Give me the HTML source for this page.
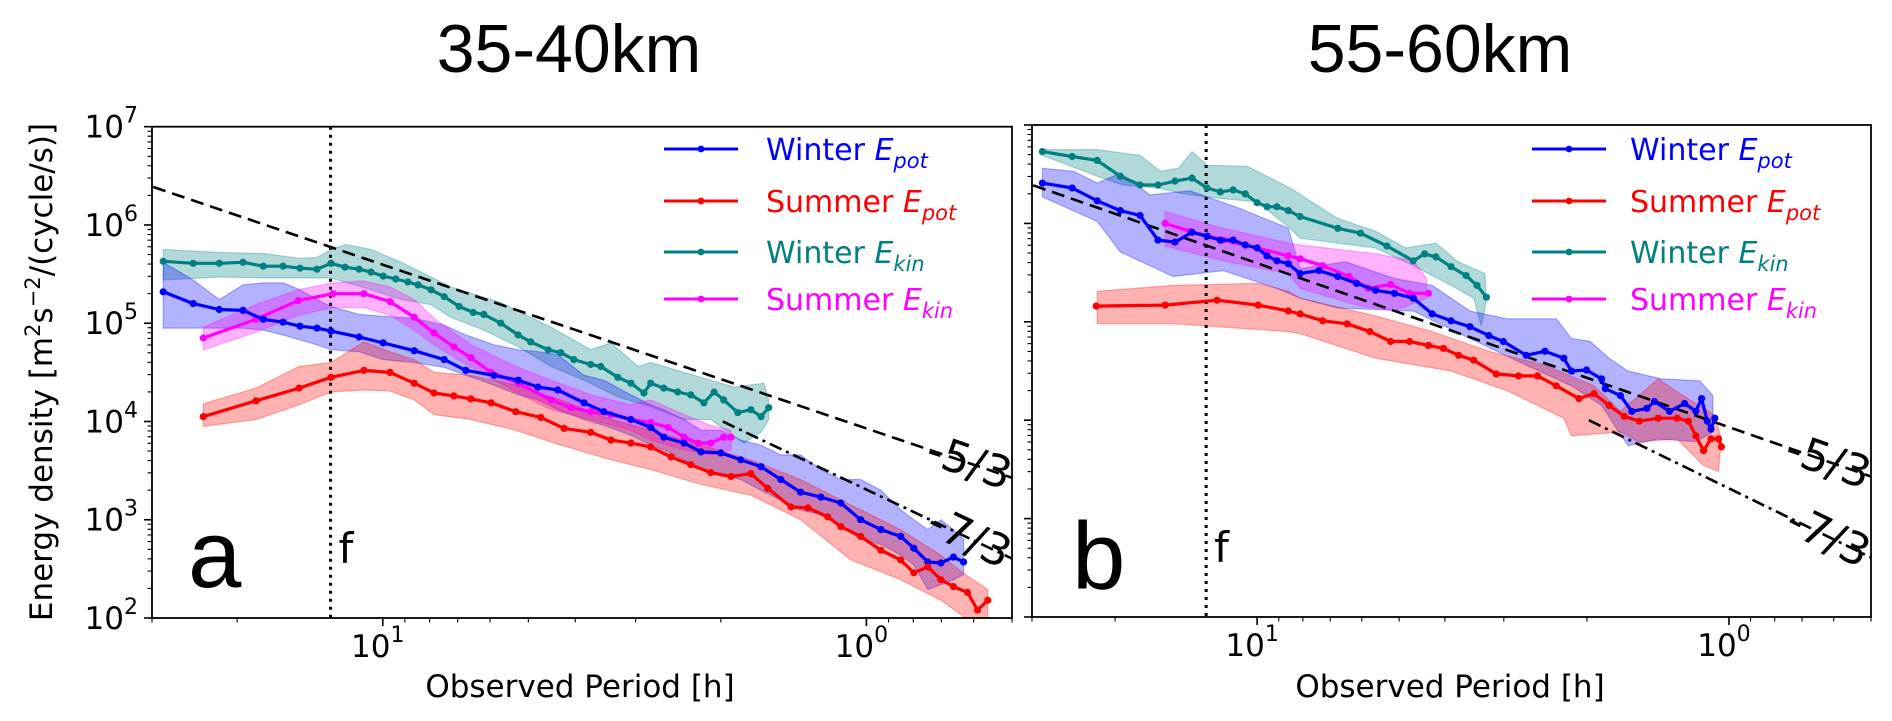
<!DOCTYPE html>
<html><head><meta charset="utf-8"><title>Energy density spectra</title>
<style>
html,body{margin:0;padding:0;background:#fff;}
svg{display:block;}
text{font-family:"DejaVu Sans","Liberation Sans",sans-serif;}
</style></head>
<body>
<svg id="chart" width="1892" height="721" viewBox="0 0 1892 721" xmlns="http://www.w3.org/2000/svg">
<rect x="0" y="0" width="1892" height="721" fill="#fff"/>
<text x="569" y="72" text-anchor="middle" font-size="68" style="font-family:'Liberation Sans',sans-serif">35-40km</text>
<text x="1440" y="72" text-anchor="middle" font-size="68" style="font-family:'Liberation Sans',sans-serif">55-60km</text>
<text transform="translate(52,372) rotate(-90)" text-anchor="middle" font-size="31">Energy density [m<tspan baseline-shift="super" font-size="21">2</tspan>s<tspan baseline-shift="super" font-size="21">−2</tspan>/(cycle/s)]</text>
<text x="580" y="697" text-anchor="middle" font-size="31">Observed Period [h]</text>
<text x="1450" y="697" text-anchor="middle" font-size="31">Observed Period [h]</text>
<g id="layer"></g>
</svg>
<script>
// ---------- axis tick data ----------
const yTickExps = [2,3,4,5,6,7];
const xMajorLogP = [1,0];
const xMinorPeriods = [30,20,9,8,7,6,5,4,3,2,0.9,0.8,0.7,0.6,0.5];
const fPeriodLog = 1.108;
const slopeA = 5/3, slopeB = 7/3;
const refAnchorLogP = 1.4747, refAnchorLogE = 6.387;
const ref73StartLogP = 0.297, ref73StartLogE = 4.00;

// ---------- panel a data (log10 period [h], log10 energy) ----------
const aTealP = [1.454,1.392,1.338,1.289,1.247,1.206,1.171,1.136,1.107,1.078,1.049,1.024,0.999,0.973,0.948,0.927,0.900,0.873,0.842,0.813,0.791,0.756,0.720,0.694,0.658,0.632,0.605,0.570,0.549,0.514,0.487,0.460,0.446,0.419,0.390,0.363,0.336,0.315,0.295,0.266,0.239,0.218,0.202];
const aTealE = [5.63,5.61,5.61,5.62,5.58,5.58,5.56,5.55,5.61,5.57,5.55,5.52,5.48,5.45,5.42,5.39,5.34,5.27,5.17,5.11,5.09,5.00,4.88,4.81,4.73,4.70,4.63,4.58,4.56,4.45,4.39,4.29,4.39,4.34,4.30,4.27,4.19,4.30,4.22,4.09,4.12,4.05,4.14];
const aTealHiP = [1.454,1.338,1.247,1.171,1.136,1.107,1.076,1.024,0.962,0.859,0.756,0.652,0.570,0.528,0.472,0.446,0.377,0.322,0.274,0.212,0.202];
const aTealHiE = [5.75,5.72,5.71,5.66,5.67,5.75,5.80,5.75,5.62,5.37,5.21,4.96,4.73,4.80,4.56,4.60,4.50,4.42,4.35,4.39,4.22];
const aTealLoP = [1.454,1.338,1.247,1.171,1.107,1.024,0.962,0.900,0.859,0.791,0.720,0.652,0.584,0.514,0.446,0.377,0.322,0.274,0.253,0.218,0.202];
const aTealLoE = [5.44,5.47,5.46,5.46,5.46,5.34,5.24,5.19,5.06,4.93,4.76,4.56,4.42,4.25,4.15,4.02,4.02,3.85,3.78,3.89,4.02];

const aBlueP = [1.454,1.392,1.338,1.289,1.247,1.206,1.171,1.136,1.107,1.049,0.999,0.935,0.873,0.828,0.770,0.720,0.679,0.638,0.584,0.543,0.487,0.446,0.419,0.377,0.342,0.301,0.260,0.218,0.177,0.136,0.094,0.053,0.012,-0.030,-0.071,-0.098,-0.127,-0.154,-0.180,-0.201];
const aBlueE = [5.32,5.20,5.14,5.13,5.04,5.01,4.97,4.95,4.92,4.86,4.80,4.72,4.63,4.52,4.47,4.42,4.35,4.32,4.19,4.10,4.02,3.94,3.84,3.78,3.69,3.68,3.61,3.54,3.41,3.28,3.23,3.17,3.00,2.90,2.83,2.71,2.57,2.56,2.62,2.57];
const aBlueHiE = [5.62,5.44,5.24,5.39,5.41,5.41,5.34,5.24,5.17,5.09,5.07,5.05,4.98,4.88,4.78,4.73,4.71,4.68,4.47,4.42,4.27,4.17,4.12,4.02,3.91,3.91,3.81,3.76,3.66,3.66,3.51,3.41,3.41,3.30,3.10,3.00,2.90,3.00,2.90,2.80];
const aBlueLoE = [4.95,4.95,4.95,4.95,4.93,4.88,4.83,4.78,4.73,4.71,4.63,4.60,4.55,4.47,4.37,4.27,4.22,4.12,4.02,3.96,3.86,3.76,3.71,3.61,3.51,3.46,3.41,3.30,3.20,3.10,3.05,2.95,2.80,2.75,2.64,2.54,2.29,2.34,2.39,2.44];

const aRedP = [1.371,1.262,1.173,1.107,1.039,0.985,0.935,0.894,0.853,0.818,0.776,0.725,0.673,0.625,0.570,0.528,0.487,0.446,0.404,0.363,0.322,0.280,0.239,0.204,0.156,0.121,0.080,0.053,0.012,-0.030,-0.071,-0.098,-0.127,-0.154,-0.180,-0.209,-0.230,-0.251];
const aRedE = [4.05,4.21,4.34,4.45,4.52,4.50,4.39,4.29,4.26,4.23,4.19,4.10,4.04,3.93,3.89,3.81,3.78,3.74,3.64,3.56,3.48,3.44,3.47,3.32,3.13,3.12,3.03,2.93,2.83,2.69,2.59,2.46,2.52,2.39,2.32,2.26,2.08,2.18];
const aRedHiP = [1.371,1.262,1.173,1.107,1.039,0.985,0.935,0.894,0.818,0.725,0.632,0.528,0.446,0.342,0.239,0.136,0.032,-0.071,-0.154,-0.205,-0.251];
const aRedHiE = [4.18,4.34,4.56,4.60,4.81,4.71,4.63,4.50,4.47,4.37,4.22,4.02,3.91,3.76,3.61,3.41,3.15,2.90,2.64,2.44,2.29];
const aRedLoE = [3.95,4.02,4.17,4.30,4.32,4.31,4.22,4.07,4.02,3.91,3.76,3.61,3.51,3.36,3.25,3.00,2.59,2.39,2.18,2.00,2.00];

const aMagP = [1.371,1.262,1.175,1.103,1.039,0.985,0.935,0.894,0.853,0.818,0.776,0.720,0.652,0.611,0.570,0.528,0.487,0.446,0.410,0.377,0.348,0.322,0.295,0.280];
const aMagE = [4.85,5.04,5.23,5.30,5.30,5.22,5.06,4.90,4.76,4.65,4.50,4.39,4.22,4.14,4.10,4.07,4.02,3.99,3.94,3.84,3.78,3.78,3.84,3.84];
const aMagBandP = [1.371,1.262,1.175,1.103,1.039,0.985,0.935,0.894,0.818,0.720,0.652,0.570,0.487,0.446,0.377,0.322,0.280];
const aMagHiE = [4.96,5.19,5.34,5.41,5.43,5.37,5.24,5.05,4.78,4.55,4.42,4.27,4.17,4.22,4.07,3.96,3.91];
const aMagLoE = [4.73,4.91,5.08,5.16,5.16,5.08,4.93,4.78,4.55,4.29,4.12,4.02,3.91,3.81,3.71,3.66,3.71];

// ---------- panel b data ----------
const bTealP = [1.455,1.392,1.339,1.290,1.248,1.210,1.174,1.138,1.106,1.078,1.051,1.025,1.000,0.979,0.958,0.934,0.909,0.829,0.781,0.725,0.669,0.645,0.621,0.589,0.557,0.534,0.514];
const bTealE = [6.73,6.68,6.64,6.48,6.39,6.39,6.43,6.46,6.36,6.32,6.34,6.30,6.21,6.17,6.17,6.13,6.07,5.95,5.90,5.77,5.62,5.69,5.66,5.56,5.47,5.37,5.25];
const bTealHiP = [1.455,1.339,1.248,1.205,1.167,1.138,1.106,1.021,0.930,0.829,0.749,0.685,0.621,0.574,0.517];
const bTealHiE = [6.75,6.75,6.69,6.53,6.56,6.73,6.59,6.58,6.36,6.05,5.92,5.75,5.80,5.61,5.49];
const bTealLoP = [1.455,1.339,1.284,1.212,1.142,1.072,1.000,0.930,0.909,0.749,0.669,0.589,0.541,0.525,0.514];
const bTealLoE = [6.69,6.48,6.39,6.36,6.29,6.25,6.22,5.95,5.85,5.75,5.57,5.37,5.24,4.96,5.21];

const bBlueP = [1.455,1.392,1.339,1.290,1.248,1.210,1.174,1.138,1.106,1.078,1.051,1.025,1.000,0.979,0.958,0.934,0.909,0.869,0.829,0.789,0.749,0.709,0.669,0.629,0.589,0.549,0.509,0.478,0.430,0.390,0.350,0.334,0.302,0.270,0.262,0.230,0.206,0.174,0.158,0.126,0.094,0.070,0.058,0.046,0.038,0.030];
const bBlueE = [6.41,6.36,6.23,6.13,6.08,5.83,5.81,5.91,5.87,5.83,5.83,5.78,5.75,5.67,5.62,5.59,5.49,5.52,5.46,5.39,5.32,5.29,5.24,5.08,5.01,4.95,4.86,4.80,4.66,4.70,4.63,4.50,4.51,4.42,4.32,4.25,4.09,4.12,4.19,4.09,4.17,4.09,4.22,3.99,3.91,4.02];
const bBlueHiP = [1.455,1.390,1.339,1.290,1.227,1.142,1.036,0.934,0.909,0.813,0.709,0.629,0.549,0.470,0.414,0.366,0.334,0.294,0.254,0.214,0.142,0.062,0.034];
const bBlueHiE = [6.56,6.53,6.41,6.51,6.29,6.33,6.15,5.95,5.54,5.61,5.44,5.37,5.11,5.03,5.03,5.03,4.83,4.80,4.63,4.50,4.42,4.40,4.25];
const bBlueLoP = [1.455,1.339,1.290,1.178,1.072,0.958,0.909,0.829,0.669,0.549,0.430,0.334,0.270,0.214,0.150,0.070,0.034];
const bBlueLoE = [6.27,6.02,5.71,5.46,5.52,5.34,5.24,5.14,5.11,4.83,4.56,4.35,4.15,3.74,3.81,3.78,3.88];

const bRedP = [1.341,1.195,1.085,0.998,0.934,0.909,0.861,0.809,0.761,0.717,0.677,0.637,0.605,0.573,0.541,0.493,0.446,0.406,0.366,0.318,0.286,0.254,0.222,0.190,0.150,0.110,0.086,0.070,0.054,0.038,0.022,0.016];
const bRedE = [5.16,5.17,5.22,5.17,5.11,5.08,5.01,4.98,4.90,4.80,4.80,4.76,4.73,4.66,4.61,4.47,4.45,4.45,4.35,4.22,4.27,4.15,4.04,3.99,4.02,4.02,3.99,3.84,3.69,3.81,3.81,3.73];
const bRedHiP = [1.339,1.178,0.998,0.934,0.909,0.749,0.629,0.509,0.390,0.286,0.230,0.150,0.110,0.030,0.016];
const bRedHiE = [5.31,5.37,5.39,5.31,5.24,5.06,4.90,4.70,4.56,4.35,4.09,4.42,4.29,4.05,3.81];
const bRedLoP = [1.339,1.178,0.934,0.909,0.749,0.589,0.470,0.350,0.334,0.230,0.190,0.110,0.054,0.022];
const bRedLoE = [4.98,4.98,4.90,4.88,4.63,4.50,4.30,4.02,3.84,3.88,3.78,3.81,3.54,3.48];

const bMagP = [1.195,1.142,1.072,1.000,0.934,0.909,0.861,0.805,0.765,0.717,0.677,0.637];
const bMagE = [6.00,5.92,5.83,5.75,5.67,5.64,5.57,5.46,5.34,5.38,5.29,5.29];
const bMagHiP = [1.195,1.072,0.934,0.909,0.749,0.669,0.641];
const bMagHiE = [6.12,5.95,5.80,5.78,5.69,5.62,5.44];
const bMagLoP = [1.195,1.072,0.934,0.909,0.789,0.709,0.641];
const bMagLoE = [5.77,5.62,5.49,5.34,5.17,5.11,5.24];

const legendLabels = ['Winter','Summer','Winter','Summer'];
const legendSubs = ['pot','pot','kin','kin'];
const legendColors = ['#0000ff','#ff0000','#008080','#ff00ff'];

// ---------- rendering ----------
const NS = 'http://www.w3.org/2000/svg';
const layer = document.getElementById('layer');
const P_MAX = 1.4771, P_MIN = -0.30103;
function mk(tag, attrs, parent){
  const e = document.createElementNS(NS, tag);
  for (const k in attrs) e.setAttribute(k, attrs[k]);
  (parent||layer).appendChild(e);
  return e;
}
function makeAxes(x0,x1,y0,y1){
  return {
    x0,x1,y0,y1,
    x: lp => x0 + (P_MAX - lp)/(P_MAX - P_MIN)*(x1-x0),
    y: le => y1 - (le-2)/5*(y1-y0)
  };
}
const axA = makeAxes(152,1012,126.7,618);
const axB = makeAxes(1032,1871,125,617);

function drawBand(ax, hiP, hiE, loP, loE, color, name){
  let d = '';
  hiP.forEach((p,i)=>{ d += (i?'L':'M') + ax.x(p).toFixed(1)+','+ax.y(hiE[i]).toFixed(1); });
  for (let i=loP.length-1;i>=0;i--) d += 'L'+ax.x(loP[i]).toFixed(1)+','+ax.y(loE[i]).toFixed(1);
  d += 'Z';
  const e = mk('path',{d:d, fill:color, 'fill-opacity':0.3, stroke:color, 'stroke-opacity':0.3, 'stroke-width':1.2});
  
  
}
function drawSeries(ax, P, E, color, name){
  const g = mk('g',{});
  
  
  const pts = P.map((p,i)=>ax.x(p).toFixed(1)+','+ax.y(E[i]).toFixed(1)).join(' ');
  mk('polyline',{points:pts, fill:'none', stroke:color, 'stroke-width':3.2, 'stroke-linejoin':'round'}, g);
  P.forEach((p,i)=>{
    const c = mk('circle',{cx:ax.x(p).toFixed(1), cy:ax.y(E[i]).toFixed(1), r:3.6, fill:color}, g);
    
    
  });
}
function drawFrame(ax, showLabels, tag){
  const g = mk('g',{});
  
  
  yTickExps.forEach(k=>{
    const y = ax.y(k);
    mk('line',{x1:ax.x0-8,x2:ax.x0,y1:y,y2:y,stroke:'#000','stroke-width':1.6},g);
    if (showLabels){
      const t = mk('text',{x:ax.x0-14,y:y+11,'text-anchor':'end','font-size':31},g);
      t.textContent = '10';
      const s = mk('tspan',{dy:-15,'font-size':22},t);
      s.textContent = String(k);
      
      
    }
    if (k<7) for (let m=2;m<=9;m++){
      const yy = ax.y(k+Math.log10(m));
      mk('line',{x1:ax.x0-4.5,x2:ax.x0,y1:yy,y2:yy,stroke:'#000','stroke-width':1.1},g);
    }
  });
  xMajorLogP.forEach(lp=>{
    const x = ax.x(lp);
    mk('line',{x1:x,x2:x,y1:ax.y1,y2:ax.y1+8,stroke:'#000','stroke-width':1.6},g);
    const t = mk('text',{x:x-5,y:ax.y1+39,'text-anchor':'middle','font-size':31},g);
    t.textContent = '10';
    const s = mk('tspan',{dy:-15,'font-size':22},t);
    s.textContent = String(lp);
    
    
  });
  xMinorPeriods.forEach(p=>{
    const x = ax.x(Math.log10(p));
    if (x < ax.x0-0.5 || x > ax.x1+0.5) return;
    mk('line',{x1:x,x2:x,y1:ax.y1,y2:ax.y1+4.5,stroke:'#000','stroke-width':1.1},g);
  });
  mk('rect',{x:ax.x0,y:ax.y0,width:ax.x1-ax.x0,height:ax.y1-ax.y0,fill:'none',stroke:'#000','stroke-width':1.8},g);
}
function drawRefs(ax, tag){
  const xf = ax.x(fPeriodLog);
  const fl = mk('line',{x1:xf,x2:xf,y1:ax.y0,y2:ax.y1,stroke:'#000','stroke-width':3,'stroke-dasharray':'3 5'});
  
  
  const ft = mk('text',{x:xf+8,y:ax.y1-55,'font-size':42});
  ft.textContent = 'f';
  
  
  const e1 = refAnchorLogE - slopeA*(refAnchorLogP - P_MIN);
  const l1 = mk('line',{x1:ax.x(refAnchorLogP),y1:ax.y(refAnchorLogE),x2:ax.x(P_MIN),y2:ax.y(e1),stroke:'#000','stroke-width':2.6,'stroke-dasharray':'13 7'});
  
  
  const e2 = ref73StartLogE - slopeB*(ref73StartLogP - P_MIN);
  const l2 = mk('line',{x1:ax.x(ref73StartLogP),y1:ax.y(ref73StartLogE),x2:ax.x(P_MIN),y2:ax.y(e2),stroke:'#000','stroke-width':2.6,'stroke-dasharray':'13 5 3 5'});
  
  
  const pxDec = (ax.x1-ax.x0)/(P_MAX-P_MIN), pyDec = (ax.y1-ax.y0)/5;
  const a1 = Math.atan(pyDec*slopeA/pxDec)*180/Math.PI;
  const a2 = Math.atan(pyDec*slopeB/pxDec)*180/Math.PI;
  const cx = ax.x1 - 43;
  const t1 = mk('text',{x:cx,y:ax.y(e1+slopeA*0.09)+14,'text-anchor':'middle','font-size':44,transform:'rotate('+a1.toFixed(1)+' '+cx+' '+ax.y(e1+slopeA*0.09).toFixed(1)+')'});
  t1.textContent = '-5/3';
  
  
  const t2 = mk('text',{x:cx,y:ax.y(e2+slopeB*0.09)+14,'text-anchor':'middle','font-size':44,transform:'rotate('+a2.toFixed(1)+' '+cx+' '+ax.y(e2+slopeB*0.09).toFixed(1)+')'});
  t2.textContent = '-7/3';
  
  
}
function drawLegend(lx, tx, tag){
  const rows = [149,201,252,299];
  legendLabels.forEach((lab,i)=>{
    const g = mk('g',{});
    
    
    const y = rows[i];
    mk('line',{x1:lx,x2:lx+74,y1:y,y2:y,stroke:legendColors[i],'stroke-width':3},g);
    mk('circle',{cx:lx+37,cy:y,r:3.4,fill:legendColors[i]},g);
    const t = mk('text',{x:tx,y:y+11,'font-size':30,fill:legendColors[i]},g);
    t.textContent = lab+' ';
    const e = mk('tspan',{'font-style':'italic'},t); e.textContent='E';
    const s = mk('tspan',{'font-style':'italic','font-size':21,dy:8},t); s.textContent=legendSubs[i];
  });
}
function panelLetter(x,y,ch,tag){
  const t = mk('text',{x:x,y:y,'font-size':96,style:"font-family:'Liberation Sans',sans-serif"});
  t.textContent = ch;
  
  
}

// panel a
drawBand(axA, aTealHiP, aTealHiE, aTealLoP, aTealLoE, '#008080', 'band-winter-ekin-a');
drawBand(axA, aBlueP, aBlueHiE, aBlueP, aBlueLoE, '#0000ff', 'band-winter-epot-a');
drawBand(axA, aMagBandP, aMagHiE, aMagBandP, aMagLoE, '#ff00ff', 'band-summer-ekin-a');
drawBand(axA, aRedHiP, aRedHiE, aRedHiP, aRedLoE, '#ff0000', 'band-summer-epot-a');
drawRefs(axA,'a');
drawSeries(axA, aTealP, aTealE, '#008080', 'series-winter-ekin-a');
drawSeries(axA, aMagP, aMagE, '#ff00ff', 'series-summer-ekin-a');
drawSeries(axA, aBlueP, aBlueE, '#0000ff', 'series-winter-epot-a');
drawSeries(axA, aRedP, aRedE, '#ff0000', 'series-summer-epot-a');
drawFrame(axA, true, 'a');
drawLegend(664, 766, 'a');
panelLetter(188,587,'a','a');

// panel b
drawBand(axB, bTealHiP, bTealHiE, bTealLoP, bTealLoE, '#008080', 'band-winter-ekin-b');
drawBand(axB, bBlueHiP, bBlueHiE, bBlueLoP, bBlueLoE, '#0000ff', 'band-winter-epot-b');
drawBand(axB, bMagHiP, bMagHiE, bMagLoP, bMagLoE, '#ff00ff', 'band-summer-ekin-b');
drawBand(axB, bRedHiP, bRedHiE, bRedLoP, bRedLoE, '#ff0000', 'band-summer-epot-b');
drawRefs(axB,'b');
drawSeries(axB, bTealP, bTealE, '#008080', 'series-winter-ekin-b');
drawSeries(axB, bMagP, bMagE, '#ff00ff', 'series-summer-ekin-b');
drawSeries(axB, bBlueP, bBlueE, '#0000ff', 'series-winter-epot-b');
drawSeries(axB, bRedP, bRedE, '#ff0000', 'series-summer-epot-b');
drawFrame(axB, false, 'b');
drawLegend(1532, 1630, 'b');
panelLetter(1072,589,'b','b');
</script>
</body></html>
